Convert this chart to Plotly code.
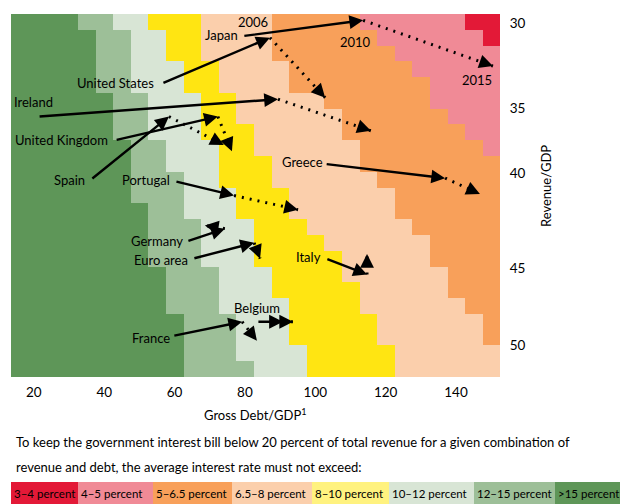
import math
import plotly.graph_objects as go

# %%
# Grid of the chart: debt columns and revenue rows
debt = [15, 20, 25, 30, 35, 40, 45, 50, 55, 60, 65, 70, 75, 80,
        85, 90, 95, 100, 105, 110, 115, 120, 125, 130, 135, 140, 145, 150]
revenue = [30, 31, 32, 33, 34, 35, 36, 37, 38, 39, 40, 41,
           42, 43, 44, 45, 46, 47, 48, 49, 50, 51, 52]

# first debt column (per revenue row) where each interest-rate band starts
start_12_15 = [35, 40, 40, 40, 40, 45, 45, 45, 50, 50, 50, 50, 55, 55, 55, 55, 60, 60, 60, 65, 65, 65, 65]
start_10_12 = [45, 50, 50, 50, 50, 55, 55, 55, 60, 60, 65, 65, 65, 70, 70, 70, 75, 75, 75, 80, 80, 80, 85]
start_8_10 = [55, 60, 60, 65, 65, 70, 70, 70, 75, 75, 75, 80, 80, 85, 85, 85, 90, 90, 95, 95, 95, 100, 100]
start_65_8 = [70, 70, 70, 75, 75, 80, 80, 85, 85, 90, 90, 95, 95, 100, 105, 110, 110, 115, 115, 120, 120, 125, 125]
start_5_65 = [90, 90, 90, 95, 95, 105, 110, 110, 115, 115, 120, 125, 125, 130, 135, 135, 140, 140, 145, 150, 150, 155, 155]
start_4_5 = [115, 120, 125, 130, 135, 135, 140, 145, 150, 155, 155, 155, 155, 155, 155, 155, 155, 155, 155, 155, 155, 155, 155]
start_3_4 = [145, 150, 155, 155, 155, 155, 155, 155, 155, 155, 155, 155, 155, 155, 155, 155, 155, 155, 155, 155, 155, 155, 155]

band_labels = [">15 percent", "12\u201315 percent", "10\u201312 percent", "8\u201310 percent",
               "6.5\u20138 percent", "5\u20136.5 percent", "4\u20135 percent", "3\u20134 percent"]

# country paths: (debt, revenue) in 2006, 2010, 2015
countries = ["Japan", "United States", "Ireland", "United Kingdom", "Spain", "Portugal",
             "Greece", "Germany", "Euro area", "Italy", "Belgium", "France"]
debt_2006 = [79.4, 56.4, 21.2, 43.1, 36.2, 60.1, 102.8, 63.5, 65.2, 103.0, 83.4, 59.5]
rev_2006 = [30.9, 33.9, 36.0, 37.5, 40.0, 40.1, 39.0, 43.9, 45.0, 45.0, 49.0, 49.9]
debt_2010 = [113.6, 87.1, 89.4, 72.3, 58.4, 76.9, 136.9, 74.3, 82.6, 114.7, 90.8, 79.2]
rev_2010 = [29.9, 31.0, 34.9, 36.0, 36.0, 41.0, 39.9, 43.1, 44.0, 46.0, 49.0, 49.0]
debt_2015 = [150.5, 102.8, 115.8, 76.3, 74.0, 95.1, 146.8, 68.6, 84.3, 114.7, 93.7, 83.4]
rev_2015 = [32.8, 34.8, 36.9, 38.2, 37.8, 41.9, 40.9, 42.9, 45.0, 44.7, 49.0, 50.2]

y_ticks = ["30", "35", "40", "45", "50"]
x_ticks = [20, 40, 60, 80, 100, 120, 140]

# %%
heat_colors = ["#5E9658", "#9DBF98", "#D8E5D5", "#FFE512", "#FBCFAC", "#F8A05A", "#F08A96", "#E31937"]
legend_colors = ["#5E9658", "#9DBF98", "#D8E5D5", "#FFF27F", "#FBCFAC", "#F8A05A", "#F08A96", "#E31937"]
FONT = "Lato, sans-serif"
FS = 13

starts = [start_12_15, start_10_12, start_8_10, start_65_8, start_5_65, start_4_5, start_3_4]
z = []
for i in range(len(revenue)):
    z.append([sum(1 for s in starts if s[i] <= d) for d in debt])

n = len(heat_colors)
colorscale = []
for i, c in enumerate(heat_colors):
    colorscale += [[i / n, c], [(i + 1) / n, c]]

fig = go.Figure()
fig.add_trace(go.Heatmap(x=debt, y=revenue, z=z, colorscale=colorscale, zmin=-0.5, zmax=n - 0.5,
                         showscale=False, hoverinfo="skip"))

# pixels per axis unit (plot area 489 x 363 px)
SX, SY = 489 / 139.0, 363 / 23.0


def arrow(x0, y0, x1, y1):
    return dict(x=x1, y=y1, ax=x0, ay=y0, xref="x", yref="y", axref="x", ayref="y", text="",
                showarrow=True, arrowhead=2, arrowsize=1.15, arrowwidth=2.4, arrowcolor="black",
                standoff=0, font=dict(size=1))


annotations = []
for i, name in enumerate(countries):
    # solid 2006 -> 2010
    annotations.append(arrow(debt_2006[i], rev_2006[i], debt_2010[i], rev_2010[i]))
    # dotted 2010 -> 2015
    fig.add_trace(go.Scatter(x=[debt_2010[i], debt_2015[i]], y=[rev_2010[i], rev_2015[i]],
                             mode="lines", line=dict(color="black", width=3, dash="2px,6px"),
                             hoverinfo="skip", showlegend=False))
    seg = math.hypot((debt_2015[i] - debt_2010[i]) * SX, (rev_2015[i] - rev_2010[i]) * SY)
    f = min(1.0, 10 / seg)
    bx = debt_2015[i] - f * (debt_2015[i] - debt_2010[i])
    by = rev_2015[i] - f * (rev_2015[i] - rev_2010[i])
    annotations.append(arrow(bx, by, debt_2015[i], rev_2015[i]))

# country labels
label_pos = {
    "Japan": (78.6, 30.8, "right"), "United States": (54.7, 33.9, "right"),
    "Ireland": (13.8, 35.1, "left"), "United Kingdom": (14.1, 37.5, "left"),
    "Spain": (30.0, 40.0, "center"), "Portugal": (51.9, 40.0, "center"),
    "Greece": (96.5, 38.9, "center"), "Germany": (55.0, 43.9, "center"),
    "Euro area": (56.0, 45.1, "center"), "Italy": (98.2, 44.9, "center"),
    "Belgium": (83.3, 48.1, "center"), "France": (53.3, 50.0, "center"),
}
for name, (lx, ly, anc) in label_pos.items():
    annotations.append(dict(x=lx, y=ly, xref="x", yref="y", text=name, showarrow=False,
                            xanchor=anc, yanchor="middle"))
for txt, lx, ly in [("2006", 82.3, 30.0), ("2010", 111.3, 31.3), ("2015", 145.9, 33.7)]:
    annotations.append(dict(x=lx, y=ly, xref="x", yref="y", text=txt, showarrow=False,
                            xanchor="center", yanchor="middle"))

# %%
# text and legend below the plot (pixel positions of the picture turned into paper units)
# the page adds an 8px body margin, so the figure is drawn 8px smaller
OFF = 8
W, H = 628 - OFF, 504 - OFF
L, R, T, B = 11, 500, 14, 377


def px(x):
    return (x - L) / (R - L)


def py(y):
    return (B - y) / (B - T)


annotations.append(dict(x=px(255), y=py(414), xref="paper", yref="paper", showarrow=False,
                        text="Gross Debt/GDP<sup>1</sup>", xanchor="center", yanchor="middle"))
annotations.append(dict(x=px(546), y=py(186), xref="paper", yref="paper", showarrow=False,
                        text="Revenue/GDP", textangle=-90, xanchor="center", yanchor="middle"))
annotations.append(dict(x=px(14), y=py(442), xref="paper", yref="paper", showarrow=False,
                        text="To keep the government interest bill below 20 percent of total revenue for a given combination of",
                        xanchor="left", yanchor="middle"))
annotations.append(dict(x=px(14), y=py(467), xref="paper", yref="paper", showarrow=False,
                        text="revenue and debt, the average interest rate must not exceed:",
                        xanchor="left", yanchor="middle"))

box_edges = [11, 78, 153, 232, 312, 389, 474, 555, 627]
shapes = []
for j in range(n):
    k = n - 1 - j  # legend runs from 3-4 percent on the left
    shapes.append(dict(type="rect", xref="paper", yref="paper", x0=px(box_edges[j]), x1=px(box_edges[j + 1]),
                       y0=py(504), y1=py(482), fillcolor=legend_colors[k], line_width=0))
    annotations.append(dict(x=px(box_edges[j] + 1), y=py(493), xref="paper", yref="paper", showarrow=False,
                            text=band_labels[k], xanchor="left", yanchor="middle", font=dict(size=11.5)))

fig.update_xaxes(range=[13.5, 152.5], tickvals=x_ticks, ticks="outside", ticklen=3,
                 tickcolor="rgba(0,0,0,0)", showgrid=False, zeroline=False, showline=False,
                 tickfont=dict(size=13.5))
fig.update_yaxes(range=[52.5, 29.5], side="right", tickvals=[30.07, 35.46, 39.58, 45.6, 50.48],
                 ticktext=y_ticks, ticks="outside", ticklen=6, tickcolor="rgba(0,0,0,0)",
                 showgrid=False, zeroline=False, showline=False, tickfont=dict(size=13.5))
fig.update_layout(width=W, height=H, margin=dict(l=L - OFF, r=W - (R - OFF), t=T - OFF, b=H - (B - OFF)),
                  template=None, plot_bgcolor="white", paper_bgcolor="white",
                  font=dict(family=FONT, color="black", size=FS),
                  showlegend=False, annotations=annotations, shapes=shapes)

fig.write_html("out.html")
